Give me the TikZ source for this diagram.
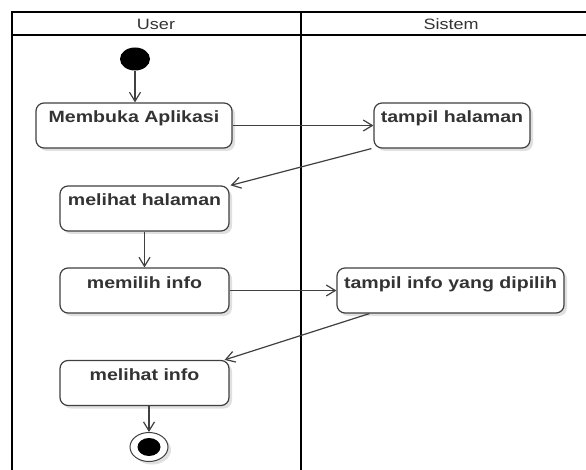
\documentclass[tikz,border=0pt]{standalone}
\usepackage{fontspec}
\setmainfont{Liberation Sans}
\usepackage{graphicx}
\usetikzlibrary{arrows.meta,shadows,shapes.geometric}
\definecolor{ink}{HTML}{333333}
\definecolor{edge}{HTML}{404040}
\tikzset{
  act/.style={draw=edge, line width=1.2pt, rounded corners=8pt, fill=white,
    inner xsep=0pt, inner ysep=4pt, text height=16pt, text depth=21pt,
    minimum height=45pt, font=\fontsize{16.3}{18}\selectfont\bfseries, text=ink,
    drop shadow={shadow xshift=3pt, shadow yshift=-3pt, opacity=0.12, fill=black}},
  flow/.style={draw=edge, line width=1.2pt, -{Straight Barb[length=9pt,width=11pt]}},
  lane/.style={draw=black, line width=2pt},
  hdr/.style={font=\fontsize{15}{18}\selectfont, text=ink},
  initial/.style={ellipse, fill=black, inner sep=0pt, minimum width=30pt, minimum height=23pt},
  final/.style={ellipse, draw=edge, line width=1pt, fill=white, inner sep=0pt,
    minimum width=38pt, minimum height=29pt,
    drop shadow={shadow xshift=3pt, shadow yshift=-3pt, opacity=0.12, fill=black}},
  finaldot/.style={ellipse, fill=black, inner sep=0pt, minimum width=23pt, minimum height=18pt}
}
\newcommand{\wide}[1]{\scalebox{1.2}[1]{#1}}
\begin{document}
\begin{tikzpicture}[x=1pt,y=-1pt]
  \useasboundingbox (0,0) rectangle (586,470);
  \clip (0,0) rectangle (586,470);
  \fill[white] (0,0) rectangle (586,470);

  % swimlanes
  \draw[lane] (12,12) rectangle (610,490);
  \draw[lane] (12,35) -- (610,35);
  \draw[lane] (301,12) -- (301,490);
  \node[hdr] (hu) at (156,24.5) {\wide{User}};
  \node[hdr] (hs) at (451,24.5) {\wide{Sistem}};

  % activities
  \node[initial] (start) at (135,59) {};
  \node[act, minimum width=196pt] (ma)  at (134,125.5)   {\wide{Membuka Aplikasi}};
  \node[act, minimum width=156pt] (th)  at (452,125.5)   {\wide{tampil halaman}};
  \node[act, minimum width=169pt] (mh)  at (144.5,208.5) {\wide{melihat halaman}};
  \node[act, minimum width=169pt] (mi)  at (144.5,290.5) {\wide{memilih info}};
  \node[act, minimum width=227pt] (ti)  at (450.5,290.5) {\wide{tampil info yang dipilih}};
  \node[act, minimum width=169pt] (mif) at (144.5,383)   {\wide{melihat info}};
  \node[final] (end) at (149,447) {};
  \node[finaldot] (enddot) at (end) {};

  % control flow
  \draw[flow] (start.south) -- (start.south |- ma.north);
  \draw[flow] (ma.east) -- (th.west);
  \draw[flow] ([xshift=-2pt]th.south west) -- ([xshift=1pt]mh.north east);
  \draw[flow] (mh) -- (mi);
  \draw[flow] (mi) -- (ti);
  \draw[flow] ([xshift=33pt]ti.south west) -- ([xshift=-5pt]mif.north east);
  \draw[flow] (mif.south -| end) -- (end.north);
\end{tikzpicture}
\end{document}
